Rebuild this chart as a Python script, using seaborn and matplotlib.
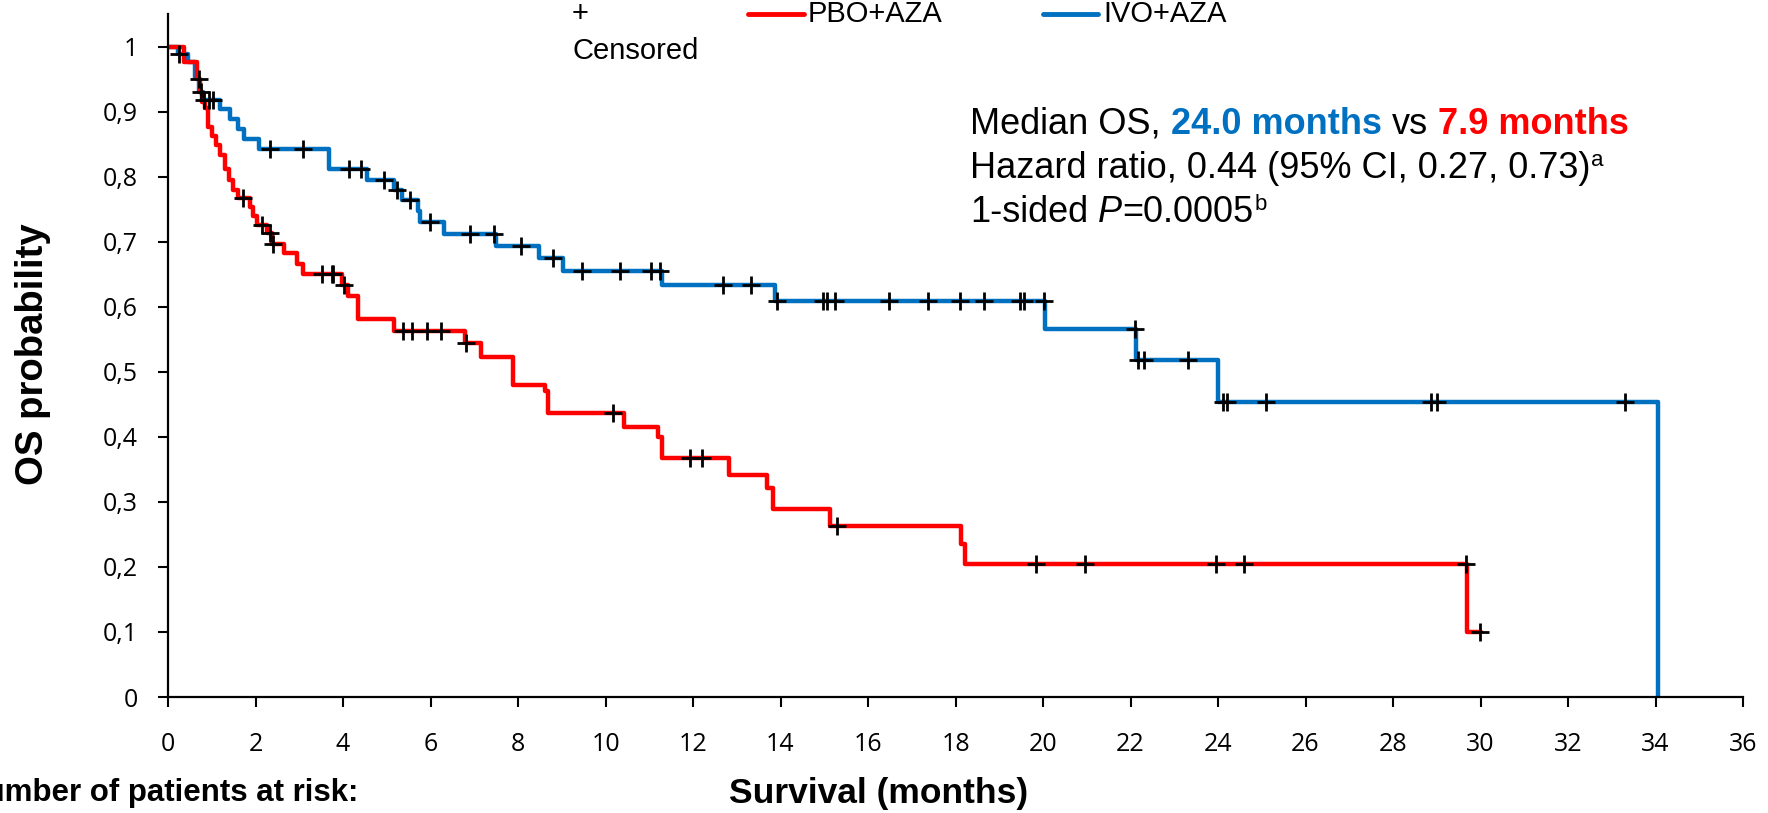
import numpy as np
import pandas as pd
import matplotlib
matplotlib.use("Agg")
import matplotlib.pyplot as plt
from matplotlib.lines import Line2D
import seaborn as sns

# ---------------- data ----------------
ivo_time = [0, 0.22, 0.45, 0.62, 0.70, 0.80, 1.18, 1.41, 1.60, 1.74, 2.07, 3.69, 4.55,
            5.17, 5.35, 5.72, 5.77, 6.30, 7.50, 8.47, 9.03, 11.28, 13.87, 20.05, 22.13,
            23.99, 34.05]
ivo_surv = [1.0, 0.988, 0.976, 0.952, 0.930, 0.918, 0.904, 0.889, 0.873, 0.858, 0.843,
            0.812, 0.795, 0.780, 0.764, 0.747, 0.730, 0.712, 0.694, 0.675, 0.655, 0.634,
            0.609, 0.566, 0.518, 0.453, 0.0]
ivo_censored = [0.26, 0.75, 0.82, 0.93, 1.03, 2.32, 3.08, 4.13, 4.40, 4.93, 5.23, 5.52,
                5.98, 6.90, 7.46, 8.07, 8.80, 9.47, 10.34, 11.03, 11.24, 12.69, 13.32,
                13.93, 14.98, 15.07, 15.25, 16.47, 17.38, 18.10, 18.64, 19.48, 19.57,
                20.03, 22.10, 22.16, 22.30, 23.32, 24.12, 24.20, 25.09, 28.86, 29.00, 33.30]

pbo_time = [0, 0.37, 0.67, 0.72, 0.77, 0.85, 0.92, 1.00, 1.10, 1.19, 1.30, 1.40, 1.49,
            1.61, 1.87, 1.95, 2.03, 2.26, 2.37, 2.64, 2.94, 3.09, 3.97, 4.12, 4.35, 5.17,
            6.79, 7.15, 7.88, 8.62, 8.69, 10.42, 11.21, 11.28, 12.83, 13.68, 13.82, 15.12,
            18.13, 18.22, 29.70, 30.0]
pbo_surv = [1.0, 0.976, 0.950, 0.930, 0.915, 0.906, 0.877, 0.862, 0.849, 0.834, 0.811,
            0.795, 0.780, 0.767, 0.754, 0.739, 0.726, 0.713, 0.697, 0.683, 0.665, 0.651,
            0.634, 0.617, 0.581, 0.563, 0.544, 0.522, 0.480, 0.470, 0.437, 0.415, 0.400,
            0.368, 0.342, 0.322, 0.289, 0.263, 0.235, 0.204, 0.100, 0.100]
pbo_censored = [0.70, 1.71, 2.14, 2.34, 2.40, 3.51, 3.74, 3.78, 4.02, 5.38, 5.57, 5.93,
                6.23, 6.81, 10.18, 11.93, 12.20, 15.28, 19.83, 20.96, 23.95, 24.60,
                29.66, 29.99]

x_ticks = list(range(0, 37, 2))
y_ticks = [0, 0.1, 0.2, 0.3, 0.4, 0.5, 0.6, 0.7, 0.8, 0.9, 1.0]
y_ticklabels = ["0", "0,1", "0,2", "0,3", "0,4", "0,5", "0,6", "0,7", "0,8", "0,9", "1"]

RED = "#FF0000"
BLUE = "#0070C0"

# ---------------- figure ----------------
sns.set_theme(style="ticks")
plt.rcParams["font.family"] = ["Liberation Sans", "DejaVu Sans"]
plt.rcParams["text.color"] = "black"
plt.rcParams["xtick.color"] = "black"
plt.rcParams["ytick.color"] = "black"
plt.rcParams["axes.labelcolor"] = "black"

W, H = 1768, 813
fig = plt.figure(figsize=(W / 100, H / 100), dpi=100)
ax = fig.add_axes([168 / W, 1 - 697 / H, (1743 - 168) / W, (697 - 14) / H])


def step_value(times, surv, t):
    idx = np.searchsorted(np.asarray(times), t, side="right") - 1
    return np.asarray(surv)[idx]


sns.lineplot(x=ivo_time, y=ivo_surv, drawstyle="steps-post", color=BLUE, linewidth=3.2,
             estimator=None, sort=False, ax=ax)
sns.lineplot(x=pbo_time, y=pbo_surv, drawstyle="steps-post", color=RED, linewidth=3.2,
             estimator=None, sort=False, ax=ax)

cens = pd.DataFrame({
    "t": ivo_censored + pbo_censored,
    "s": [step_value(ivo_time, ivo_surv, t) for t in ivo_censored]
         + [step_value(pbo_time, pbo_surv, t) for t in pbo_censored],
})
sns.scatterplot(data=cens, x="t", y="s", marker="+", color="black", s=170,
                linewidth=2.0, ax=ax, zorder=5)

ax.set_xlim(0, 36)
ax.set_ylim(0, 1.05)
ax.set_xticks(x_ticks)
ax.set_xticklabels([str(v) for v in x_ticks], fontfamily="Open Sans", fontsize=18)
ax.set_yticks(y_ticks)
ax.set_yticklabels(y_ticklabels, fontfamily="Open Sans", fontsize=18)
ax.tick_params(axis="both", direction="out", length=7.5, width=1.5, color="black",
               labelcolor="black")
ax.tick_params(axis="x", pad=18)
ax.tick_params(axis="y", pad=14)
for side in ["top", "right"]:
    ax.spines[side].set_visible(False)
for side in ["left", "bottom"]:
    ax.spines[side].set_color("black")
    ax.spines[side].set_linewidth(1.6)
ax.set_xlabel("")
ax.set_ylabel("")
ax.set_facecolor("white")


def fx(x):
    return x / W


def fy(y):
    return 1 - y / H


# axis titles
fig.text(fx(33), fy(354), "OS probability", rotation=90, ha="center", va="center",
         fontsize=27.5, fontweight="bold")
fig.text(fx(879), fy(793), "Survival (months)", ha="center", va="center",
         fontsize=25.5, fontweight="bold")
fig.text(fx(358), fy(793), "Number of patients at risk:", ha="right", va="center",
         fontsize=22.5, fontweight="bold")

# legend
fig.text(fx(572), fy(14), "+", ha="left", va="center", fontsize=21)
fig.text(fx(572), fy(51), "Censored", ha="left", va="center", fontsize=21)
fig.add_artist(Line2D([fx(748), fx(804)], [fy(14), fy(14)], color=RED, linewidth=3.5))
fig.text(fx(808), fy(14), "PBO+AZA", ha="left", va="center", fontsize=21)
fig.add_artist(Line2D([fx(1043), fx(1098)], [fy(14), fy(14)], color=BLUE, linewidth=3.5))
fig.text(fx(1103), fy(14), "IVO+AZA", ha="left", va="center", fontsize=21)

# annotation with mixed styles
fig.canvas.draw()
renderer = fig.canvas.get_renderer()
FS = 26
space_px = 0.278 * FS * 100 / 72


def put_line(x0, y_base, pieces):
    x = x0
    for text, kw, gap_before, dy in pieces:
        x += gap_before
        t = fig.text(fx(x), fy(y_base - dy), text, ha="left", va="baseline", **kw)
        bb = t.get_window_extent(renderer)
        x = bb.x1
    return x


put_line(970, 134, [
    ("Median OS,", dict(fontsize=FS), 0, 0),
    ("24.0 months", dict(fontsize=FS, fontweight="bold", color=BLUE), space_px, 0),
    ("vs", dict(fontsize=FS), space_px, 0),
    ("7.9 months", dict(fontsize=FS, fontweight="bold", color=RED), space_px, 0),
])
put_line(970, 178, [
    ("Hazard ratio, 0.44 (95% CI, 0.27, 0.73)", dict(fontsize=FS), 0, 0),
    ("a", dict(fontsize=16), 1, 12),
])
put_line(970, 222, [
    ("1-sided", dict(fontsize=FS), 0, 0),
    ("P", dict(fontsize=FS, fontstyle="italic"), space_px, 0),
    ("=0.0005", dict(fontsize=FS), 0, 0),
    ("b", dict(fontsize=16), 1, 12),
])

fig.savefig("out.png", dpi=100, facecolor="white")
